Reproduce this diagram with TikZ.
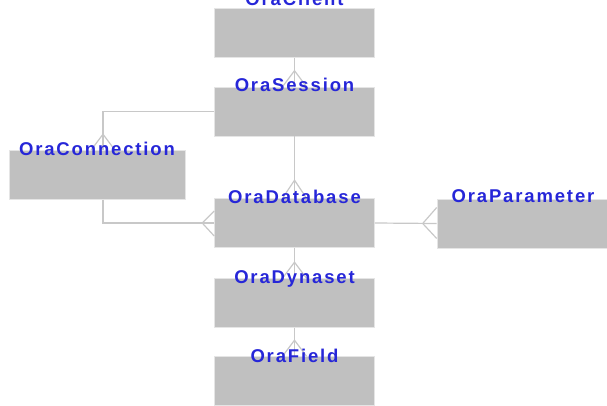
\documentclass[tikz,border=0pt]{standalone}
\usepackage{fontspec}
\usetikzlibrary{calc}
\newfontfamily\lblfont[LetterSpace=10]{Liberation Sans}
\definecolor{boxgray}{RGB}{192,192,192}
\definecolor{linegray}{RGB}{200,200,200}
\definecolor{oblue}{RGB}{38,38,216}
\begin{document}
\begin{tikzpicture}[x=1pt,y=-1pt,
  entity/.style={rectangle,fill=boxgray,draw=gray!20,line width=0.6pt,minimum width=160pt,minimum height=49pt,inner sep=0pt},
  lbl/.style={font=\lblfont\bfseries\fontsize{18.5}{19}\selectfont,text=oblue,anchor=base,inner sep=0pt},
  link/.style={draw=linegray,line width=1.2pt}]
  \useasboundingbox (0,0) rectangle (607,406);
  % entities
  \node[entity] (client) at (294.5,33) {};
  \node[entity] (session) at (294.5,111.5) {};
  \node[entity,minimum width=176pt] (conn) at (97,175) {};
  \node[entity] (db) at (294.5,223) {};
  \node[entity,minimum width=172pt] (param) at (523,223.5) {};
  \node[entity] (dyn) at (294.5,303) {};
  \node[entity] (field) at (294.5,381) {};
  % relations
  \draw[link] (client.south) -- (session.north);
  \draw[link] (session.west) -| ([xshift=6pt]conn.north);
  \draw[link] ([xshift=6pt]conn.south) |- (db.west);
  \draw[link] (session.south) -- (db.north);
  \draw[link] (db.east) -- (param.west);
  \draw[link] (db.south) -- (dyn.north);
  \draw[link] (dyn.south) -- (field.north);
  % crow's feet
  \draw[link] ($(session.north)+(-12,0)$) -- ($(session.north)+(0,-16)$) -- ($(session.north)+(12,0)$);
  \draw[link] ($(conn.north)+(-6,0)$) -- ($(conn.north)+(6,-16)$) -- ($(conn.north)+(18,0)$);
  \draw[link] ($(db.north)+(-12,0)$) -- ($(db.north)+(0,-18)$) -- ($(db.north)+(12,0)$);
  \draw[link] ($(dyn.north)+(-12,0)$) -- ($(dyn.north)+(0,-16)$) -- ($(dyn.north)+(12,0)$);
  \draw[link] ($(field.north)+(-12,0)$) -- ($(field.north)+(0,-16)$) -- ($(field.north)+(12,0)$);
  \draw[link] ($(db.west)+(0,-12)$) -- ($(db.west)+(-12,0)$) -- ($(db.west)+(0,13)$);
  \draw[link] ($(param.west)+(0,-16)$) -- ($(param.west)+(-14,0)$) -- ($(param.west)+(0,15)$);
  % names
  \node[lbl] (clienttxt) at ([yshift=3pt]client.north) {OraClient};
  \node[lbl] (sessiontxt) at ([yshift=-5pt]session.north) {OraSession};
  \node[lbl] (conntxt) at ([yshift=-5pt]conn.north) {OraConnection};
  \node[lbl] (dbtxt) at ([yshift=-5pt]db.north) {OraDatabase};
  \node[lbl] (paramtxt) at ([yshift=-4pt]param.north) {OraParameter};
  \node[lbl] (dyntxt) at ([yshift=-5pt]dyn.north) {OraDynaset};
  \node[lbl] (fieldtxt) at ([yshift=-6pt]field.north) {OraField};
\end{tikzpicture}
\end{document}
